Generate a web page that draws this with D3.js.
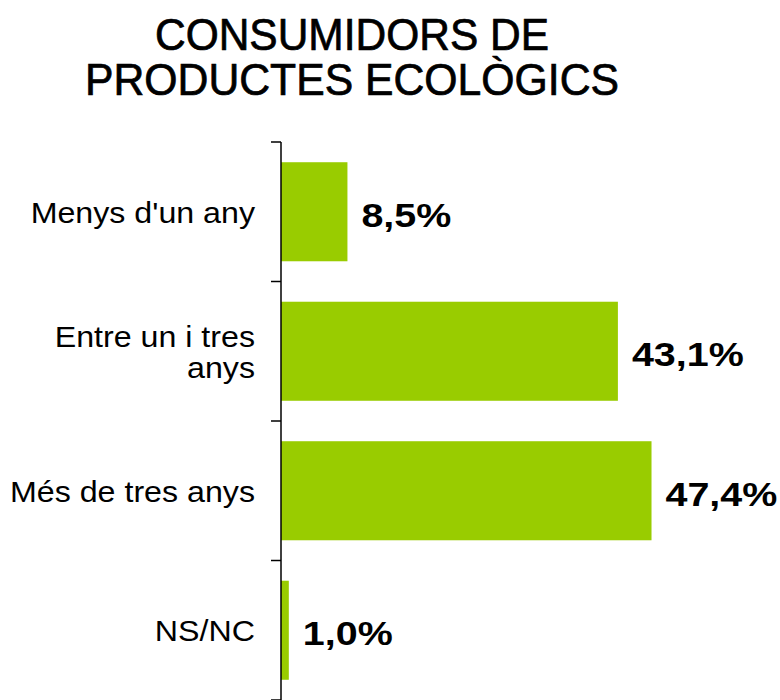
<!DOCTYPE html>
<html>
<head>
<meta charset="utf-8">
<style>
body { margin: 0; background: #fff; }
svg { display: block; font-family: "Liberation Sans", Arial, sans-serif; }
</style>
<script src="https://cdn.jsdelivr.net/npm/d3@7"></script>
</head>
<body>
<div id="chart"></div>
<script>
// chart data
var categories = ["Menys d'un any", "Entre un i tres anys", "Més de tres anys", "NS/NC"];
var labelLines = [["Menys d'un any"], ["Entre un i tres", "anys"], ["Més de tres anys"], ["NS/NC"]];
var values = [8.5, 43.1, 47.4, 1.0];
var titleLines = ["CONSUMIDORS DE", "PRODUCTES ECOLÒGICS"];

var width = 780, height = 700;
var svg = d3.select('#chart').append('svg')
    .attr('width', width)
    .attr('height', height);

var x = d3.scaleLinear().domain([0, 60]).range([281, 750]);
var y = d3.scaleBand().domain(categories).range([142, 700])
    .paddingInner(0.29).paddingOuter(0.145);

// title
svg.append('g').selectAll('text')
    .data(titleLines)
    .enter().append('text')
    .attr('x', 352)
    .attr('y', (d, i) => 50 + i * 45)
    .attr('text-anchor', 'middle')
    .attr('font-size', 44)
    .attr('textLength', (d, i) => i == 0 ? 394 : 534)
    .attr('lengthAdjust', 'spacingAndGlyphs')
    .attr('fill', '#000')
    .attr('stroke', '#000')
    .attr('stroke-width', 0.7)
    .text(d => d);

// bars
svg.selectAll('rect.bar')
    .data(values)
    .enter().append('rect')
    .attr('class', 'bar')
    .attr('x', x(0))
    .attr('y', (d, i) => y(categories[i]))
    .attr('width', d => x(d) - x(0))
    .attr('height', y.bandwidth())
    .attr('fill', '#99cc00');

// axis line + ticks between categories
var step = y.step();
var tickYs = d3.range(categories.length + 1).map(i => 142 + i * step);
svg.append('line')
    .attr('x1', x(0)).attr('x2', x(0))
    .attr('y1', 142).attr('y2', 700)
    .attr('stroke', '#000').attr('stroke-width', 1.5);
svg.selectAll('line.tick')
    .data(tickYs)
    .enter().append('line')
    .attr('class', 'tick')
    .attr('x1', x(0) - 10).attr('x2', x(0))
    .attr('y1', d => d).attr('y2', d => d)
    .attr('stroke', '#000').attr('stroke-width', 1.5);

// category labels
var lh = 31;
svg.selectAll('g.cat')
    .data(labelLines)
    .enter().append('g')
    .attr('class', 'cat')
    .each(function(lines, i) {
        var cy = y(categories[i]) + y.bandwidth() / 2;
        var y0 = cy - (lines.length - 1) * lh / 2 + 11;
        d3.select(this).selectAll('text')
            .data(lines)
            .enter().append('text')
            .attr('transform', (d, j) => 'translate(255,' + (y0 + j * lh) + ') scale(1.11,1)')
            .attr('text-anchor', 'end')
            .attr('font-size', 29)
            .attr('fill', '#000')
            .text(d => d);
    });

// value labels
svg.selectAll('text.val')
    .data(values)
    .enter().append('text')
    .attr('class', 'val')
    .attr('transform', (d, i) => 'translate(' + (x(d) + 14) + ',' +
        (y(categories[i]) + y.bandwidth() / 2 + 15) + ') scale(1.16,1)')
    .attr('font-size', 34)
    .attr('font-weight', 'bold')
    .attr('fill', '#000')
    .text(d => d.toFixed(1).replace('.', ',') + '%');
</script>
</body>
</html>
